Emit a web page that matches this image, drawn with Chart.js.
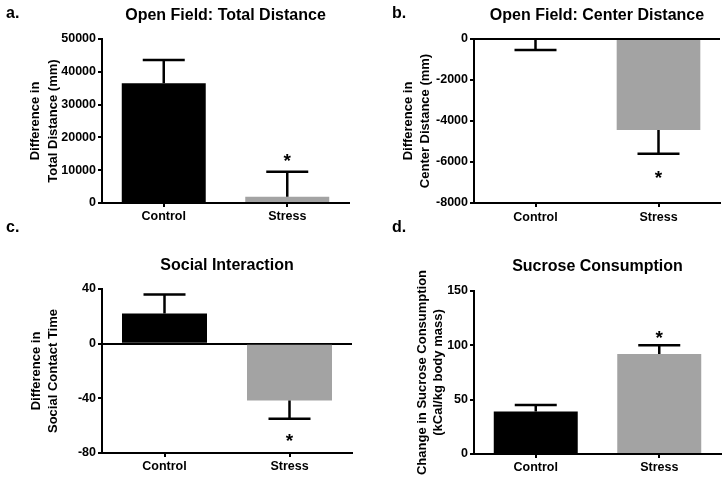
<!DOCTYPE html>
<html>
<head>
<meta charset="utf-8">
<script src="https://cdn.jsdelivr.net/npm/chart.js@4.4.0/dist/chart.umd.min.js"></script>
<style>
  body { margin:0; background:#fff; width:728px; height:483px; overflow:hidden; position:relative; font-family:"Liberation Sans", Arial, sans-serif; }
  canvas { position:absolute; }
  .lbl { position:absolute; font-weight:bold; font-size:16px; line-height:16px; color:#000; }
</style>
</head>
<body>
<canvas id="ca" width="364" height="240" style="left:0;top:0"></canvas>
<canvas id="cb" width="364" height="240" style="left:364px;top:0"></canvas>
<canvas id="cc" width="364" height="243" style="left:0;top:240px"></canvas>
<canvas id="cd" width="364" height="243" style="left:364px;top:240px"></canvas>
<div class="lbl" style="left:6px;top:5px">a.</div>
<div class="lbl" style="left:392px;top:5px">b.</div>
<div class="lbl" style="left:6px;top:219px">c.</div>
<div class="lbl" style="left:392px;top:219px">d.</div>
<script>
// ---- data ----
const categories = ['Control', 'Stress'];

const totalDistance = [36500, 1900];
const totalDistanceSEM = [7100, 7600];
const totalDistanceStar = [null, 14300];
const totalDistanceTicks = [0, 10000, 20000, 30000, 40000, 50000];

const centerDistance = [-40, -4440];
const centerDistanceSEM = [500, 1160];
const centerDistanceStar = [null, -6540];
const centerDistanceTicks = [-8000, -6000, -4000, -2000, 0];

const socialContact = [22, -41.5];
const socialContactSEM = [14, 13.5];
const socialContactStar = [null, -67.6];
const socialContactTicks = [-80, -40, 0, 40];

const sucrose = [39, 92];
const sucroseSEM = [6, 8];
const sucroseStar = [null, 111];
const sucroseTicks = [0, 50, 100, 150];

const barColors = ['#000000', '#a3a3a3'];
const FONT = '"Liberation Sans", Arial, sans-serif';

const errorBarPlugin = {
  id: 'errorBars',
  afterDatasetsDraw(chart, args, opts) {
    const ctx = chart.ctx;
    const y = chart.scales.y;
    const ds = chart.data.datasets[0];
    const meta = chart.getDatasetMeta(0);
    ctx.save();
    ctx.strokeStyle = '#000';
    ctx.fillStyle = '#000';
    ctx.lineWidth = 2.5;
    ds.data.forEach((v, i) => {
      const sem = opts.sem[i];
      const end = v >= 0 ? v + sem : v - sem;
      const px = meta.data[i].x;
      const y0 = y.getPixelForValue(v);
      const y1 = y.getPixelForValue(end);
      ctx.beginPath();
      ctx.moveTo(px, y0); ctx.lineTo(px, y1);
      ctx.moveTo(px - 21, y1); ctx.lineTo(px + 21, y1);
      ctx.stroke();
      const s = opts.stars[i];
      if (s !== null && s !== undefined) {
        const fs = 19;
        ctx.font = 'bold ' + fs + 'px ' + FONT;
        ctx.textAlign = 'center';
        ctx.textBaseline = 'alphabetic';
        ctx.fillText('*', px, y.getPixelForValue(s) + 0.57 * fs);
      }
    });
    ctx.restore();
  }
};

function makePanel(id, p) {
  const ticks = p.ticks;
  return new Chart(document.getElementById(id), {
    type: 'bar',
    data: {
      labels: categories,
      datasets: [{ data: p.values, backgroundColor: barColors, borderWidth: 0, barPercentage: 0.68, categoryPercentage: 1 }]
    },
    options: {
      responsive: false,
      animation: false,
      layout: { padding: { left: 0, right: p.padRight, top: 0, bottom: 0 } },
      plugins: {
        legend: { display: false },
        tooltip: { enabled: false },
        title: {
          display: true, text: p.title, fullSize: false, color: '#000',
          font: { family: FONT, size: 16, weight: 'bold', lineHeight: 1.2 },
          padding: { top: p.titleTop, bottom: p.titleH - p.titleTop - 19.2 }
        },
        errorBars: { sem: p.sem, stars: p.stars }
      },
      scales: {
        x: {
          grid: { offset: false, drawOnChartArea: false, drawTicks: true, tickLength: 4, color: '#000', lineWidth: 2 },
          border: { display: true, color: '#000', width: 2 },
          ticks: { color: '#000', font: { family: FONT, size: 12.5, weight: 'bold', lineHeight: 1.2 }, padding: p.xPad },
          afterFit(s) { s.height = p.xH; }
        },
        y: {
          min: ticks[0], max: ticks[ticks.length - 1],
          ticks: { stepSize: ticks[1] - ticks[0], callback: v => String(v), color: '#000', font: { family: FONT, size: 12.5, weight: 'bold' }, padding: 2 },
          grid: {
            color: c => (c.tick && c.tick.value === 0) ? '#000' : 'rgba(0,0,0,0)',
            tickColor: '#000', lineWidth: 2, tickLength: 4, drawTicks: true, drawOnChartArea: true
          },
          border: { display: true, color: '#000', width: 2 },
          title: {
            display: true, text: p.yTitle, color: '#000',
            font: { family: FONT, size: 13, weight: 'bold', lineHeight: p.yLH },
            padding: { top: p.yTitleTop, bottom: 0 }
          },
          afterFit(s) { s.width = p.yW; }
        }
      }
    },
    plugins: [errorBarPlugin]
  });
}

makePanel('ca', {
  values: totalDistance, sem: totalDistanceSEM, stars: totalDistanceStar, ticks: totalDistanceTicks,
  title: 'Open Field: Total Distance', yTitle: ['Difference in', 'Total Distance (mm)'],
  padRight: 15, titleH: 39, titleTop: 5.9, xH: 37, xPad: 2, yW: 102, yTitleTop: 26.7, yLH: 1.35
});
makePanel('cb', {
  values: centerDistance, sem: centerDistanceSEM, stars: centerDistanceStar, ticks: centerDistanceTicks,
  title: 'Open Field: Center Distance', yTitle: ['Difference in', 'Center Distance (mm)'],
  padRight: 8, titleH: 39, titleTop: 5.9, xH: 37, xPad: 3, yW: 110, yTitleTop: 36.2, yLH: 1.3
});
makePanel('cc', {
  values: socialContact, sem: socialContactSEM, stars: socialContactStar, ticks: socialContactTicks,
  title: 'Social Interaction', yTitle: ['Difference in', 'Social Contact Time'],
  padRight: 12, titleH: 49, titleTop: 15.6, xH: 30, xPad: 2, yW: 102, yTitleTop: 27.9, yLH: 1.3
});
makePanel('cd', {
  values: sucrose, sem: sucroseSEM, stars: sucroseStar, ticks: sucroseTicks,
  title: 'Sucrose Consumption', yTitle: ['Change in Sucrose Consumption', '(kCal/kg body mass)'],
  padRight: 7, titleH: 51, titleTop: 16.6, xH: 29, xPad: 2, yW: 110, yTitleTop: 50.2, yLH: 1.25
});
</script>
</body>
</html>
